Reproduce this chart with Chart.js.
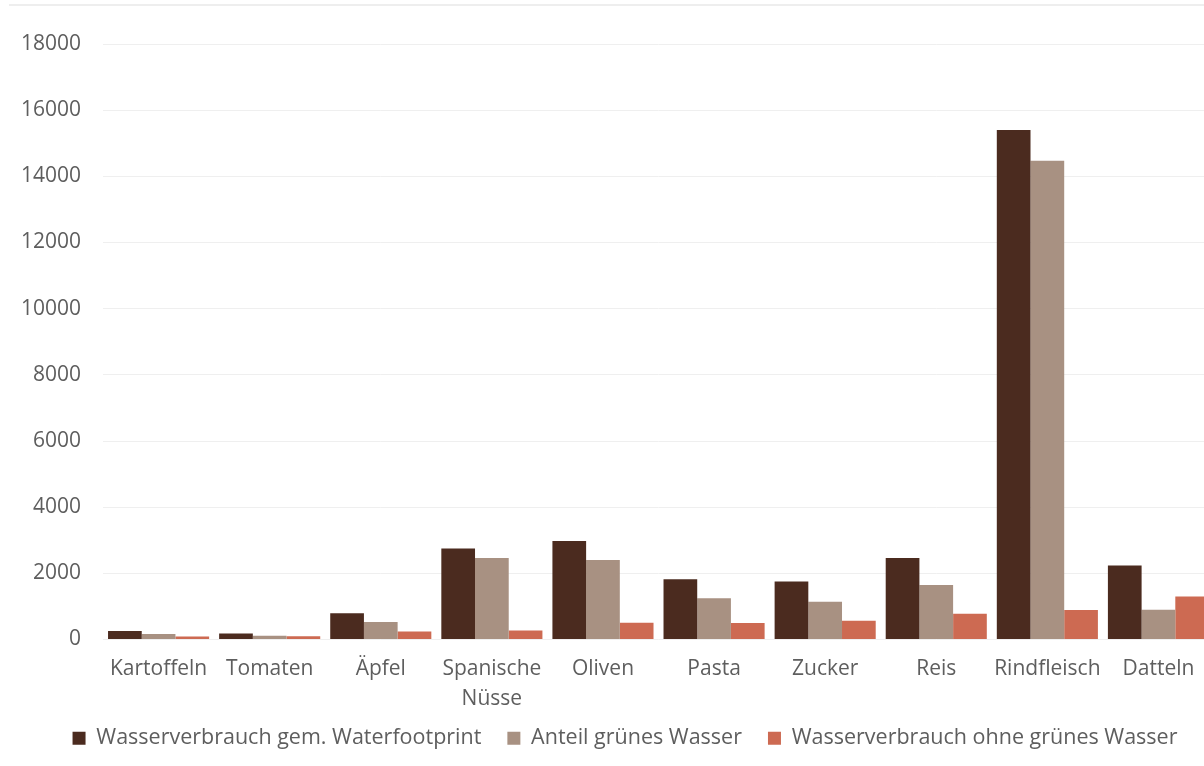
<!DOCTYPE html>
<html lang="de">
<head>
<meta charset="utf-8">
<title>Wasserverbrauch</title>
<script src="https://cdn.jsdelivr.net/npm/chart.js@4/dist/chart.umd.min.js"></script>
<style>
  html, body { margin: 0; padding: 0; background: #ffffff; overflow: hidden; }
  #frame { position: relative; width: 1204px; height: 766px; overflow: hidden; }
  #topline { position: absolute; left: 9px; right: 0; top: 4px; height: 0; border-top: 2px solid #eeeeee; }
  #chart { position: absolute; left: 0; top: 0; }
</style>
</head>
<body>
<div id="frame">
  <div id="topline"></div>
  <canvas id="chart" width="1250" height="766"></canvas>
</div>
<script>
// Liter Wasser pro Kilogramm Lebensmittel
const categories = ['Kartoffeln', 'Tomaten', 'Äpfel', ['Spanische', 'Nüsse'], 'Oliven', 'Pasta', 'Zucker', 'Reis', 'Rindfleisch', 'Datteln'];
const seriesNames = ['Wasserverbrauch gem. Waterfootprint', 'Anteil grünes Wasser', 'Wasserverbrauch ohne grünes Wasser'];
const gesamt = [260, 180, 790, 2750, 2980, 1820, 1750, 2460, 15400, 2240];
const gruen = [170, 110, 530, 2460, 2400, 1250, 1140, 1650, 14470, 900];
const ohneGruen = [90, 100, 240, 270, 510, 500, 570, 780, 890, 1300];
const yTicks = [0, 2000, 4000, 6000, 8000, 10000, 12000, 14000, 16000, 18000];
const colors = ['#4b2b1f', '#a89182', '#cd6a52'];

const textColor = '#5e5e5e';
const fontFamily = "'Open Sans', 'Noto Sans', sans-serif";
const fontSize = 21;

// The axes are fitted tighter than their labels; widen the label boxes
// again after layout so the labels are not clipped.
const X_TRIM = 28;
const Y_TRIM = 37;
const labelRoom = {
  id: 'labelRoom',
  afterLayout(chart) {
    chart.scales.x.bottom += X_TRIM;
    chart.scales.y.left -= Y_TRIM;
  }
};

new Chart(document.getElementById('chart'), {
  type: 'bar',
  data: {
    labels: categories,
    datasets: [gesamt, gruen, ohneGruen].map((values, i) => ({
      label: seriesNames[i],
      data: values,
      backgroundColor: colors[i],
      borderWidth: 0,
      categoryPercentage: 0.91,
      barPercentage: 1.0
    }))
  },
  options: {
    responsive: false,
    animation: false,
    devicePixelRatio: 1,
    layout: { padding: { top: 44, right: 36, left: 36, bottom: 7 } },
    scales: {
      x: {
        grid: { display: false, drawTicks: false },
        border: { display: false },
        ticks: {
          color: textColor,
          font: { family: fontFamily, size: fontSize, lineHeight: 30 / fontSize },
          maxRotation: 0,
          autoSkip: false,
          padding: 15
        },
        afterFit: axis => { axis.height -= X_TRIM; }
      },
      y: {
        min: 0,
        max: 18000,
        afterBuildTicks: axis => { axis.ticks = yTicks.map(v => ({ value: v })); },
        grid: { color: '#efefef', lineWidth: 1, drawTicks: false },
        border: { display: false },
        ticks: {
          color: textColor,
          font: { family: fontFamily, size: fontSize },
          padding: 22,
          callback: v => String(v)
        },
        afterFit: axis => { axis.width -= Y_TRIM; }
      }
    },
    plugins: {
      legend: {
        position: 'bottom',
        labels: {
          color: textColor,
          font: { family: fontFamily, size: 21.5 },
          boxWidth: 13,
          boxHeight: 13,
          padding: 26
        }
      },
      tooltip: { enabled: false }
    }
  },
  plugins: [labelRoom]
});
</script>
</body>
</html>
